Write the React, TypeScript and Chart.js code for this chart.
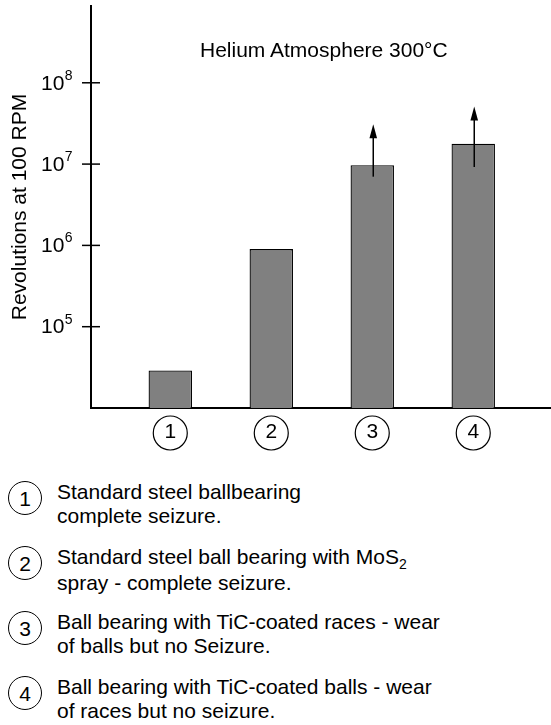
import React, { useEffect, useRef } from "react";
import { Chart, registerables } from "chart.js";

Chart.register(...registerables);

// ---------- data ----------
const categories = [1, 2, 3, 4];
const revolutions = [2.9e4, 9.0e5, 9.7e6, 1.78e7];
const arrowFrom = [null, null, 7.0e6, 9.2e6];
const arrowTo = [null, null, 3.1e7, 5.1e7];
const yTickValues = [1e5, 1e6, 1e7, 1e8];
const yTickExponents = ["5", "6", "7", "8"];
const yMin = 1e4;
const yMax = 8.8e8;
const titleText = "Helium Atmosphere 300°C";
const yAxisTitle = "Revolutions at 100 RPM";
const legendNumbers = ["1", "2", "3", "4"];
const legendLine1 = [
  "Standard steel ballbearing",
  "Standard steel ball bearing with MoS",
  "Ball bearing with TiC-coated races - wear",
  "Ball bearing with TiC-coated balls - wear",
];
const legendLine1Sub = ["", "2", "", ""];
const legendLine2 = [
  "complete seizure.",
  "spray - complete seizure.",
  "of balls but no Seizure.",
  "of races but no seizure.",
];

const FONT = "'Liberation Sans', Arial, Helvetica, sans-serif";
const CANVAS_W = 551;
const CANVAS_H = 460;

const decorPlugin = {
  id: "decor",
  afterDatasetsDraw(chart: any) {
    const ctx = chart.ctx;
    const xs = chart.scales.x;
    const ys = chart.scales.y;
    ctx.save();
    ctx.strokeStyle = "#000";
    ctx.fillStyle = "#000";
    categories.forEach((c, i) => {
      const lo = arrowFrom[i];
      const hi = arrowTo[i];
      if (lo == null || hi == null) return;
      const px = xs.getPixelForValue(c) + 1;
      const yLo = ys.getPixelForValue(lo);
      const yHi = ys.getPixelForValue(hi);
      const head = 14;
      ctx.lineWidth = 1.5;
      ctx.beginPath();
      ctx.moveTo(px, yLo);
      ctx.lineTo(px, yHi + head - 1);
      ctx.stroke();
      ctx.beginPath();
      ctx.moveTo(px, yHi);
      ctx.lineTo(px - 3.8, yHi + head);
      ctx.lineTo(px + 3.8, yHi + head);
      ctx.closePath();
      ctx.fill();
    });
    ctx.restore();
  },
  afterDraw(chart: any) {
    const ctx = chart.ctx;
    const xs = chart.scales.x;
    const ys = chart.scales.y;
    const left = chart.chartArea.left;
    ctx.save();
    ctx.strokeStyle = "#000";
    ctx.fillStyle = "#000";
    ctx.lineWidth = 1.5;
    yTickValues.forEach((v, i) => {
      const py = ys.getPixelForValue(v);
      ctx.beginPath();
      ctx.moveTo(left - 9, py);
      ctx.lineTo(left + 9, py);
      ctx.stroke();
      ctx.font = `21px ${FONT}`;
      ctx.textAlign = "left";
      ctx.textBaseline = "middle";
      ctx.fillText("10", 41, py + 1);
      const w = ctx.measureText("10").width;
      ctx.font = `14px ${FONT}`;
      ctx.fillText(yTickExponents[i], 41 + w + 0.5, py - 7);
    });
    ctx.lineWidth = 1.2;
    xs.ticks.forEach((t: any) => {
      const px = xs.getPixelForValue(t.value);
      const cy = xs.top + 25;
      ctx.beginPath();
      ctx.arc(px, cy, 17, 0, Math.PI * 2);
      ctx.stroke();
    });
    ctx.restore();
  },
};

function ChartCanvas() {
  const ref = useRef<HTMLCanvasElement | null>(null);
  useEffect(() => {
    if (!ref.current) return;
    const chart = new Chart(ref.current, {
      type: "bar",
      data: {
        datasets: [
          {
            data: categories.map((c, i) => ({ x: c, y: revolutions[i] })),
            backgroundColor: "#808080",
            borderColor: "#000",
            borderWidth: 1.3,
            barPercentage: 0.43,
            categoryPercentage: 1,
          },
        ],
      },
      options: {
        animation: false,
        responsive: false,
        maintainAspectRatio: false,
        layout: { padding: { top: 6, right: 1, left: 0, bottom: 0 } },
        plugins: {
          legend: { display: false },
          tooltip: { enabled: false },
          title: { display: false },
        },
        scales: {
          x: {
            type: "linear",
            offset: false,
            min: 0.215,
            max: 4.76,
            grid: { display: false, drawTicks: false, offset: false },
            border: { display: true, color: "#000", width: 2 },
            ticks: {
              color: "#000",
              font: { family: FONT, size: 21 },
              padding: 12,
              autoSkip: false,
              maxRotation: 0,
              callback: (v: any) => String(v),
            },
            afterBuildTicks: (s: any) => {
              s.ticks = categories.map((v) => ({ value: v }));
            },
            afterFit: (s: any) => {
              s.height = 52;
            },
          },
          y: {
            type: "logarithmic",
            min: yMin,
            max: yMax,
            grid: { display: false, drawTicks: false },
            border: { display: true, color: "#000", width: 2 },
            ticks: { display: false },
            title: {
              display: true,
              text: yAxisTitle,
              color: "#000",
              font: { family: FONT, size: 21 },
              padding: { top: 8, bottom: 0 },
            },
            afterFit: (s: any) => {
              s.width = 91;
            },
          },
        },
      } as any,
      plugins: [decorPlugin],
    });
    return () => chart.destroy();
  }, []);
  return <canvas ref={ref} width={CANVAS_W} height={CANVAS_H} style={{ display: "block" }} />;
}

const circleStyle = (cx: number, cy: number): React.CSSProperties => ({
  position: "absolute",
  left: cx - 17,
  top: cy - 17,
  width: 32,
  height: 32,
  border: "1.2px solid #000",
  borderRadius: "50%",
  display: "flex",
  alignItems: "center",
  justifyContent: "center",
  fontSize: 21,
  lineHeight: "21px",
  boxSizing: "content-box",
});

export default function App() {
  const itemTop = [479.5, 544.5, 609.5, 674.5];
  return (
    <div
      style={{
        position: "absolute",
        left: 0,
        top: 0,
        width: CANVAS_W,
        height: 725,
        background: "#fff",
        fontFamily: FONT,
        color: "#000",
        overflow: "hidden",
      }}
    >
      <ChartCanvas />
      <div
        style={{
          position: "absolute",
          left: 200,
          top: 37,
          fontSize: 21,
          lineHeight: "25px",
          whiteSpace: "nowrap",
        }}
      >
        {titleText}
      </div>
      {legendNumbers.map((n, i) => (
        <React.Fragment key={n}>
          <div style={circleStyle(25, itemTop[i] + 18)}>
            <span style={{ position: "relative", top: 1 }}>{n}</span>
          </div>
          <div
            style={{
              position: "absolute",
              left: 57,
              top: itemTop[i],
              fontSize: 21,
              lineHeight: "24.5px",
              whiteSpace: "nowrap",
            }}
          >
            <div>
              {legendLine1[i]}
              {legendLine1Sub[i] ? (
                <span style={{ fontSize: 14, position: "relative", top: 5 }}>{legendLine1Sub[i]}</span>
              ) : null}
            </div>
            <div>{legendLine2[i]}</div>
          </div>
        </React.Fragment>
      ))}
    </div>
  );
}
